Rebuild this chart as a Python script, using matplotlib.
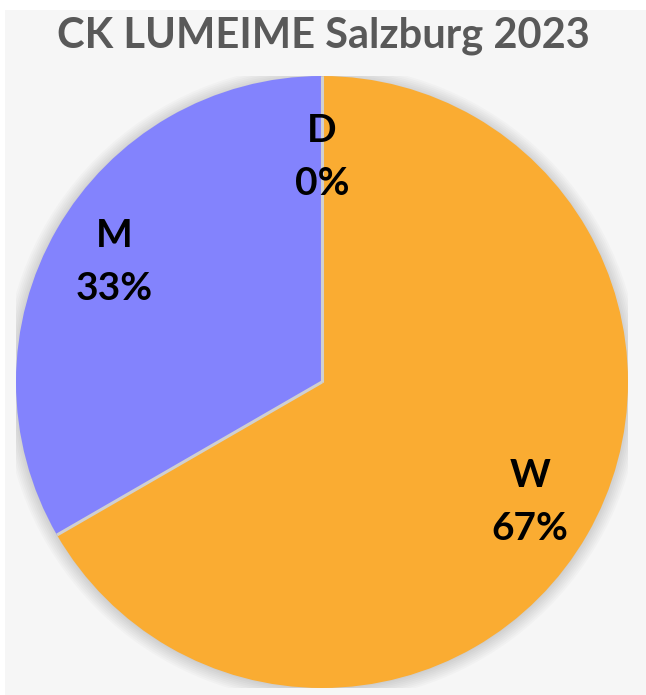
import numpy as np
import matplotlib.pyplot as plt
from matplotlib.patches import Rectangle, Circle

title = 'CK LUMEIME Salzburg 2023'
categories = ['W', 'M', 'D']
counts = [2, 1, 0]
colors = ['#FAAC32', '#8383FD', '#A5A5A5']

plt.rcParams['font.family'] = ['Lato', 'DejaVu Sans']

fig = plt.figure(figsize=(6.46, 6.95), dpi=100, facecolor='white')
# light grey chart area
fig.patches.append(Rectangle((5 / 646, 0), 1, 1 - 10 / 695, transform=fig.transFigure,
                             facecolor='#F6F6F6', edgecolor='none', zorder=-5))

ax = fig.add_axes([16 / 646, 7 / 695, 612 / 646, 612 / 695])
ax.set_facecolor('none')

# soft shadow round the pie
for i in range(8):
    ax.add_patch(Circle((0, -0.004), 1 + 0.006 * i, facecolor='black', edgecolor='none',
                        alpha=0.018, zorder=0))

wedges, _ = ax.pie(counts, colors=colors, startangle=90, counterclock=False,
                   wedgeprops=dict(edgecolor='none', linewidth=0))

# separator lines between slices
for w in wedges:
    a = np.deg2rad(w.theta1)
    ax.plot([0, np.cos(a)], [0, np.sin(a)], color='#D0D0D0', lw=2.2, zorder=3,
            solid_capstyle='butt')

total = sum(counts)
for w, cat, c in zip(wedges, categories, counts):
    ang = np.deg2rad((w.theta1 + w.theta2) / 2)
    r = 0.785 if c > 0 else 0.735
    pct = round(100 * c / total)
    ax.text(r * np.cos(ang), r * np.sin(ang), f'{cat}\n{pct}%', ha='center', va='center',
            fontsize=28, fontweight='bold', color='black', linespacing=1.6, zorder=4)

ax.set_xlim(-1, 1)
ax.set_ylim(-1, 1)
ax.set_aspect('equal')
ax.axis('off')

fig.text(323 / 646, 1 - 36 / 695, title, ha='center', va='center',
         fontsize=30, fontweight='bold', color='#595959')

fig.savefig('out.png', dpi=100, facecolor=fig.get_facecolor())
